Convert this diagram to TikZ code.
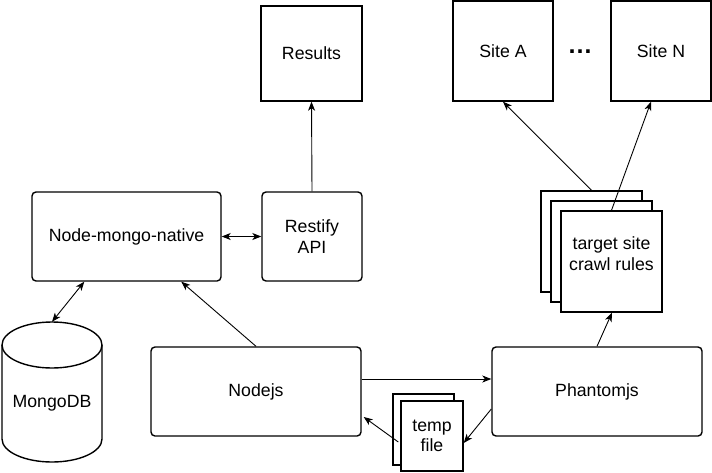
\documentclass[tikz,border=0pt]{standalone}
\usepackage{fontspec}
\setmainfont{Liberation Sans}
\usetikzlibrary{arrows.meta,calc}
\begin{document}
\begin{tikzpicture}[x=1pt,y=-1pt,
  every node/.style={font=\fontsize{17.7}{20.5}\selectfont, text=black},
  box/.style={draw=black, line width=1.4pt, fill=white, rectangle, inner sep=0pt, align=center},
  rbox/.style={box, rounded corners=4pt},
  conn/.style={draw=black, line width=0.9pt, -{Stealth[length=9pt,width=7pt,inset=2.5pt]}},
  biconn/.style={draw=black, line width=0.9pt, {Stealth[length=9pt,width=7pt,inset=2.5pt]}-{Stealth[length=9pt,width=7pt,inset=2.5pt]}}
]
\useasboundingbox (0,0) rectangle (712,472);

% top boxes
\node[box, minimum width=101pt, minimum height=95pt] (results) at (311.5,53.5) {Results};
\node[box, minimum width=100pt, minimum height=100pt] (siteA) at (503,51) {Site A};
\node[box, minimum width=100pt, minimum height=100pt] (siteN) at (661,51) {Site N};
\node[font=\fontsize{25}{25}\selectfont\bfseries] (dots) at (580,52) {…};

% middle row
\node[rbox, minimum width=189pt, minimum height=89pt] (nmn) at (126.5,236.5) {Node-mongo-native};
\node[rbox, minimum width=100pt, minimum height=89pt] (restify) at (312,236.5) {Restify\\API};

% crawl rules stack
\node[box, minimum width=101pt, minimum height=101pt] (rulesB) at (591.5,241.5) {};
\node[box, minimum width=101pt, minimum height=101pt] (rulesM) at (601.5,251.5) {};
\node[box, minimum width=101pt, minimum height=101pt] (rulesF) at (611.5,261.5) {};
\node[align=center] (rulestext) at ($(rulesF.center)+(0,-8)$) {target site\\crawl rules};

% bottom row
\node[rbox, minimum width=210pt, minimum height=89pt] (nodejs) at (256,391.5) {Nodejs};
\node[rbox, minimum width=210pt, minimum height=89pt] (phantom) at (597,391.5) {Phantomjs};

% temp file stack
\node[box, minimum width=61pt, minimum height=71pt] (tempB) at (423.5,429.5) {};
\node[box, minimum width=62pt, minimum height=70pt] (tempF) at (432,436) {temp\\file};

% MongoDB cylinder
\node[minimum width=100pt, minimum height=140pt, inner sep=0pt] (mongo) at (52,392) {};
\draw[line width=1.4pt, fill=white] (2,345) -- (2,439) arc[start angle=180, end angle=0, x radius=50, y radius=23] -- (102,345) arc[start angle=0, end angle=-180, x radius=50, y radius=23] -- cycle;
\draw[line width=1.4pt] (2,345) arc[start angle=180, end angle=0, x radius=50, y radius=23];
\node at (mongo.center) [yshift=-11pt] {MongoDB};

% connectors
\draw[conn] (restify.north) -- (results.south);
\draw[biconn] (mongo.north) -- ($(nmn.south west)+(53,0)$);
\draw[biconn] (nmn.east) -- (restify.west);
\draw[conn] (nodejs.north) -- ($(nmn.south west)+(150,0)$);
\draw[conn] ($(nodejs.east)+(0,-12.5)$) -- ($(phantom.west)+(0,-12.5)$);
\draw[conn] ($(phantom.west)+(0,17.5)$) -- ($(tempF.east)+(0,7)$);
\draw[conn] ($(tempF.west)+(-2,6)$) -- ($(nodejs.east)+(2,25.5)$);
\draw[conn] (phantom.north) -- ($(rulesF.south)+(0.5,0)$);
\draw[conn] (rulesB.north) -- (siteA.south);
\draw[conn] (rulesF.north) -- ($(siteN.south)+(-10,0)$);
\end{tikzpicture}
\end{document}
